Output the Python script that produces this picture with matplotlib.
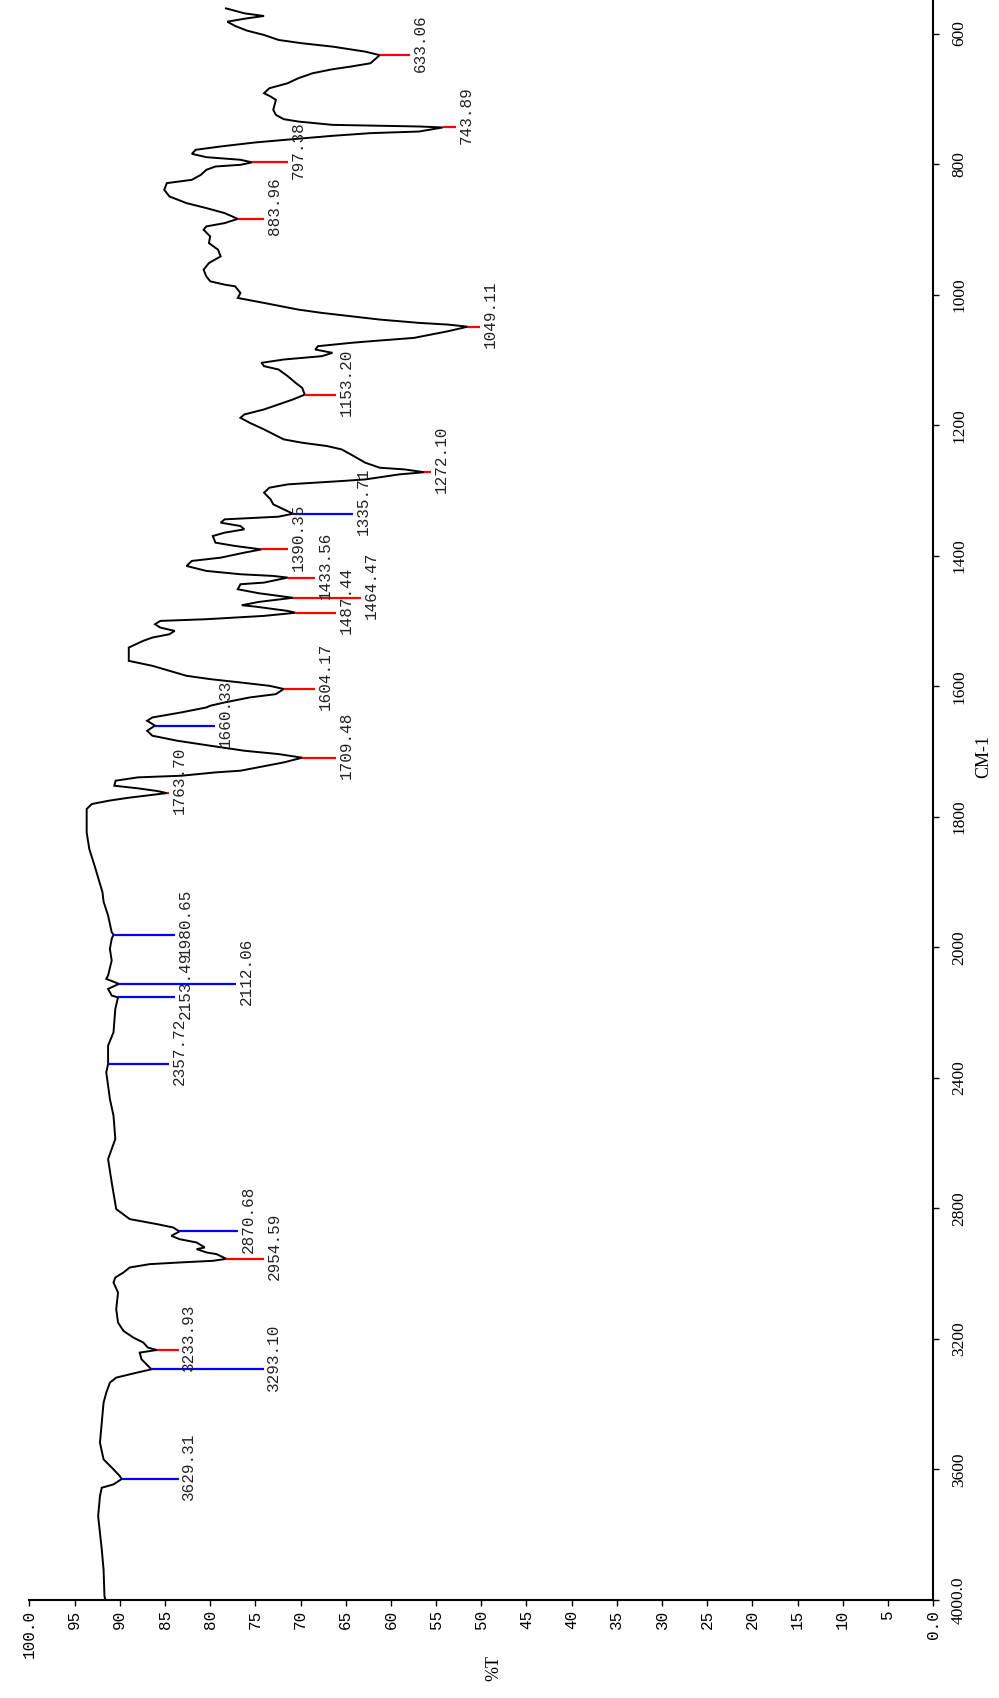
import matplotlib
matplotlib.use("Agg")
import matplotlib.pyplot as plt
import numpy as np

# ---- FT-IR trace: wavenumber (cm-1) vs transmittance (%T) ----
trace_wn = [561.4, 569.0, 573.1, 576.7, 581.8, 588.4, 595.5, 602.2, 609.8, 614.9,
            620.0, 627.7, 645.5, 650.6, 654.7, 660.8, 668.5, 676.1, 683.8, 691.4,
            696.5, 701.6, 716.9, 724.6, 731.2, 734.8, 739.9, 742.4, 750.1, 752.6,
            756.7, 761.8, 766.9, 773.0, 778.1, 784.3, 789.4, 793.4, 801.1, 803.7,
            808.8, 816.4, 824.1, 829.2, 839.4, 849.6, 859.8, 867.4, 875.1, 890.4,
            895.5, 900.6, 910.8, 921.0, 931.2, 941.4, 951.6, 961.8, 972.0, 979.6,
            984.7, 987.3, 997.5, 1005.1, 1012.7, 1022.9, 1028.0, 1038.2, 1043.3, 1045.9,
            1056.1, 1066.3, 1071.4, 1073.9, 1079.0, 1084.1, 1089.2, 1094.3, 1099.4, 1104.5,
            1109.6, 1114.7, 1124.9, 1135.1, 1142.8, 1160.6, 1168.3, 1175.9, 1183.6, 1188.7,
            1196.3, 1206.5, 1221.8, 1226.9, 1232.0, 1237.1, 1244.8, 1257.5, 1265.2, 1267.8,
            1275.4, 1283.1, 1285.6, 1290.7, 1295.8, 1303.5, 1313.7, 1321.3, 1329.0, 1340.2,
            1341.7, 1344.3, 1349.4, 1354.5, 1359.6, 1364.7, 1369.8, 1380.0, 1385.1, 1395.3,
            1403.0, 1408.0, 1415.7, 1423.3, 1428.4, 1431.0, 1441.2, 1443.7, 1451.4, 1457.5,
            1461.6, 1470.8, 1475.9, 1477.9, 1484.6, 1492.2, 1497.3, 1499.9, 1505.0, 1510.1,
            1515.2, 1520.3, 1525.4, 1530.5, 1540.7, 1561.1, 1568.7, 1576.4, 1584.0, 1589.1,
            1594.2, 1599.3, 1612.1, 1617.2, 1624.8, 1629.9, 1632.5, 1640.1, 1647.8, 1652.9,
            1668.2, 1675.8, 1683.5, 1691.1, 1698.8, 1703.9, 1716.7, 1729.4, 1732.0, 1737.1,
            1739.6, 1744.7, 1752.4, 1756.4, 1760.6, 1770.8, 1775.3, 1780.4, 1788.1, 1823.8,
            1849.3, 1874.8, 1915.6, 1930.0, 1951.3, 1976.8, 1987.0, 2004.6, 2040.4, 2086.4,
            2096.6, 2127.3, 2147.7, 2188.6, 2260.2, 2301.1, 2382.9, 2464.7, 2515.8, 2587.4,
            2648.8, 2720.3, 2802.1, 2832.8, 2848.1, 2858.4, 2884.0, 2894.2, 2904.4, 2919.7,
            2924.8, 2935.0, 2940.1, 2960.6, 2965.7, 2970.8, 2981.0, 2996.4, 3011.7, 3027.1,
            3057.7, 3108.9, 3149.8, 3175.3, 3195.8, 3211.1, 3226.4, 3241.8, 3262.2, 3303.1,
            3318.5, 3333.8, 3364.5, 3395.2, 3456.5, 3517.9, 3569.0, 3599.7, 3620.1, 3645.7,
            3655.9, 3681.5, 3742.8, 3845.0, 3906.4, 3988.2, 4000.0]
trace_T = [78.25, 76.22, 74.04, 75.93, 78.11, 77.24, 75.93, 74.04, 72.44, 69.82,
           66.47, 62.84, 62.26, 64.44, 66.47, 68.66, 70.26, 71.42, 73.45, 74.04,
           73.31, 72.73, 73.02, 72.73, 71.86, 70.26, 66.47, 56.88, 56.88, 62.26,
           66.47, 70.84, 75.05, 78.84, 81.60, 82.03, 80.43, 76.65, 76.65, 79.42,
           80.43, 81.02, 82.03, 84.80, 85.09, 84.51, 82.62, 80.43, 78.40, 78.40,
           80.43, 80.73, 80.00, 80.14, 79.13, 78.84, 80.14, 80.73, 80.43, 80.00,
           78.40, 77.24, 76.65, 76.95, 74.04, 70.26, 67.64, 61.24, 56.88, 53.68,
           53.68, 57.46, 62.26, 64.44, 68.07, 68.37, 66.47, 67.64, 71.86, 74.33,
           74.04, 72.44, 71.42, 70.55, 69.82, 70.84, 72.44, 74.04, 76.22, 76.65,
           75.64, 74.04, 71.86, 69.82, 67.06, 65.46, 64.44, 62.84, 61.24, 58.48,
           59.06, 62.84, 65.46, 71.42, 73.45, 74.04, 73.31, 73.02, 71.86, 72.44,
           74.62, 78.40, 78.84, 76.65, 76.22, 78.40, 79.71, 79.42, 77.24, 76.22,
           78.84, 82.03, 82.62, 80.43, 76.65, 73.02, 74.04, 76.65, 76.95, 74.62,
           72.44, 74.62, 76.51, 75.05, 71.42, 74.04, 80.43, 85.52, 86.11, 85.52,
           83.93, 84.51, 86.40, 87.42, 89.01, 89.01, 86.40, 84.51, 82.62, 80.00,
           76.65, 73.45, 72.73, 75.64, 78.40, 80.00, 80.43, 83.20, 86.40, 86.98,
           86.98, 86.40, 83.63, 80.00, 76.22, 72.44, 71.86, 76.65, 79.42, 83.20,
           88.00, 90.47, 90.61, 88.00, 85.82, 89.01, 91.20, 93.09, 93.67, 93.67,
           93.38, 92.80, 91.92, 91.80, 91.30, 90.90, 90.90, 91.10, 90.90, 91.30,
           91.50, 91.30, 90.90, 90.50, 90.70, 91.30, 91.50, 91.10, 90.70, 90.50,
           91.30, 90.90, 90.40, 88.90, 85.90, 84.10, 84.30, 83.40, 81.50, 80.60,
           81.50, 80.40, 79.30, 79.70, 83.40, 86.70, 88.90, 89.60, 90.50, 90.70,
           90.20, 90.40, 90.20, 89.60, 88.50, 87.40, 86.90, 87.80, 87.60, 88.10,
           90.40, 91.10, 91.50, 91.80, 92.00, 92.20, 91.80, 90.70, 90.00, 90.70,
           92.00, 92.20, 92.40, 92.00, 91.80, 91.70, 91.60]

# ---- picked peaks: position, %T at the tip, %T where the marker ends ----
peak_wn = [633.06, 743.89, 797.38, 883.96, 1049.11, 1153.20, 1272.10, 1335.71,
           1390.35, 1433.56, 1464.47, 1487.44, 1604.17, 1660.33, 1709.48, 1763.70,
           1980.65, 2112.06, 2153.49, 2357.72, 2870.68, 2954.59, 3233.93, 3293.10,
           3629.31]
peak_T = [61.24, 54.26, 75.35, 76.95, 51.50, 69.53, 56.30, 70.84,
          74.33, 71.42, 70.84, 70.55, 71.86, 86.11, 69.82, 84.80,
          90.70, 90.10, 90.20, 91.30, 83.40, 78.20, 85.90, 86.50,
          89.80]
peak_end_T = [57.89, 52.80, 71.42, 74.04, 50.19, 66.04, 55.57, 64.15,
              71.42, 68.37, 63.28, 66.04, 68.37, 79.42, 66.04, 84.51,
              83.90, 77.10, 83.90, 84.60, 76.90, 74.00, 83.50, 74.10,
              83.50]
peak_kind = ["r", "r", "r", "r", "r", "r", "r", "b",
             "r", "r", "r", "r", "r", "b", "r", "r",
             "b", "b", "b", "b", "b", "r", "r", "b",
             "b"]

x_ticks = list(range(100, -1, -5))
x_tick_labels = ["100.0"] + [str(v) for v in range(95, 0, -5)] + ["0.0"]
y_ticks = [600, 800, 1000, 1200, 1400, 1600, 1800, 2000, 2400, 2800, 3200, 3600, 4000]
y_tick_labels = ["600", "800", "1000", "1200", "1400", "1600", "1800", "2000",
                 "2400", "2800", "3200", "3600", "4000.0"]

# merge the peak tips into the trace so the curve passes through them
wn = np.array(trace_wn + peak_wn)
tr = np.array(trace_T + peak_T)
order = np.argsort(wn)
wn, tr = wn[order], tr[order]


def fwd(w):
    # wavenumber axis: 2000-4000 cm-1 drawn at half the scale of the low range
    w = np.asarray(w, dtype=float)
    return np.where(w <= 2000, w, 2000 + (w - 2000) / 2.0)


def inv(v):
    v = np.asarray(v, dtype=float)
    return np.where(v <= 2000, v, 2000 + (v - 2000) * 2.0)


fig = plt.figure(figsize=(9.99, 16.98), dpi=100)
ax = fig.add_axes([0.0295, 0.0577, 0.9045, 0.9423])

ax.plot(tr, wn, color="black", lw=1.4, solid_joinstyle="miter")

colors = {"r": "#ff0000", "b": "#0000ff"}
for w, t0, t1, k in zip(peak_wn, peak_T, peak_end_T, peak_kind):
    ax.plot([t0, t1], [w, w], color=colors[k], lw=1.6, solid_capstyle="butt")
    ax.annotate(f"{w:.2f}", xy=(t1, w), xytext=(2, 9), textcoords="offset points",
                rotation=90, ha="left", va="center", fontsize=11.5,
                family="Liberation Mono", color="#222222")

ax.set_yscale("function", functions=(fwd, inv))
ax.set_ylim(4000, 548.6)
ax.set_xlim(100, 0)

ax.set_xticks(x_ticks)
ax.set_xticklabels(x_tick_labels, family="Liberation Mono", fontsize=11.5)
ax.set_yticks(y_ticks)
ax.set_yticklabels(y_tick_labels, family="Liberation Serif", fontsize=12.5)
ax.yaxis.tick_right()
ax.yaxis.set_minor_locator(matplotlib.ticker.NullLocator())
ax.xaxis.set_minor_locator(matplotlib.ticker.NullLocator())

ax.tick_params(axis="x", direction="out", length=4, width=1, pad=3, labelrotation=90)
ax.tick_params(axis="y", direction="out", length=4, width=1, pad=9, labelrotation=90)
for lbl in ax.get_yticklabels():
    lbl.set_va("center")

for side in ("top", "left"):
    ax.spines[side].set_visible(False)
for side in ("bottom", "right"):
    ax.spines[side].set_linewidth(1.5)

fig.text(494 / 999, 1 - 1668 / 1698, "%T", rotation=90, ha="center", va="center",
         family="Liberation Serif", fontsize=13)
fig.text(984 / 999, 1 - 756 / 1698, "CM-1", rotation=90, ha="center", va="center",
         family="Liberation Serif", fontsize=13)

fig.savefig("out.png", dpi=100)
